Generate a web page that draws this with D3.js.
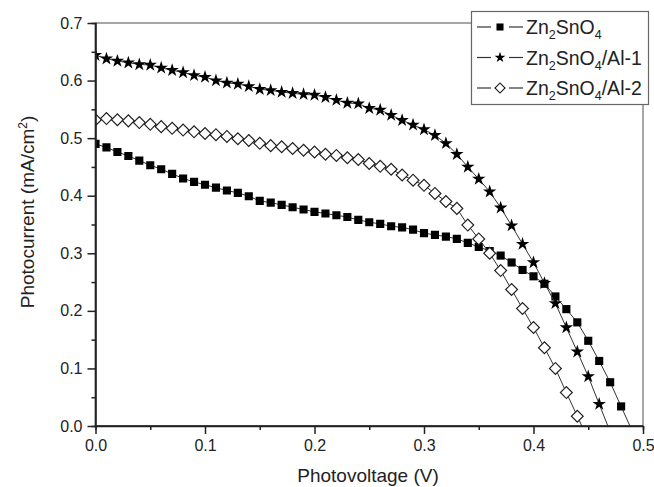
<!DOCTYPE html>
<style>
body {
  margin: 0;
  font-family: 'Liberation Sans', Arial, sans-serif;
  background: #fff;
}
.axis .domain {
  stroke: #222;
  stroke-width: 1.5;
}
.axis .tick line {
  stroke: #222;
  stroke-width: 1.5;
}
.axis text {
  font-family: 'Liberation Sans', Arial, sans-serif;
  font-size: 16px;
  fill: #222;
}
</style>
<svg width="654" height="487"></svg>
<script src="https://d3js.org/d3.v7.min.js"></script>
<script>
// voltage steps (V), shared by the three curves
var voltage = [0.00, 0.01, 0.02, 0.03, 0.04, 0.05, 0.06, 0.07, 0.08, 0.09,
               0.10, 0.11, 0.12, 0.13, 0.14, 0.15, 0.16, 0.17, 0.18, 0.19,
               0.20, 0.21, 0.22, 0.23, 0.24, 0.25, 0.26, 0.27, 0.28, 0.29,
               0.30, 0.31, 0.32, 0.33, 0.34, 0.35, 0.36, 0.37, 0.38, 0.39,
               0.40, 0.41, 0.42, 0.43, 0.44, 0.45, 0.46, 0.47, 0.48, 0.49];

// photocurrent (mA/cm2); the last value of each lies just under the axis
var zn2sno4 = [0.490, 0.484, 0.476, 0.469, 0.461, 0.453, 0.446, 0.438, 0.430, 0.424,
               0.419, 0.414, 0.409, 0.405, 0.399, 0.391, 0.388, 0.384, 0.380, 0.376,
               0.372, 0.369, 0.366, 0.363, 0.358, 0.354, 0.351, 0.347, 0.345, 0.341,
               0.335, 0.332, 0.329, 0.325, 0.318, 0.311, 0.304, 0.296, 0.284, 0.271,
               0.260, 0.247, 0.225, 0.203, 0.180, 0.148, 0.113, 0.076, 0.034, -0.008];

var zn2sno4Al1 = [0.644, 0.638, 0.634, 0.631, 0.628, 0.627, 0.622, 0.618, 0.614, 0.609,
                  0.606, 0.600, 0.596, 0.594, 0.590, 0.585, 0.583, 0.580, 0.578, 0.576,
                  0.575, 0.571, 0.566, 0.561, 0.560, 0.552, 0.549, 0.540, 0.531, 0.523,
                  0.515, 0.505, 0.491, 0.472, 0.450, 0.429, 0.407, 0.379, 0.348, 0.316,
                  0.284, 0.248, 0.213, 0.171, 0.129, 0.086, 0.038, -0.010];

var zn2sno4Al2 = [0.532, 0.534, 0.532, 0.530, 0.527, 0.524, 0.520, 0.517, 0.514, 0.511,
                  0.508, 0.506, 0.503, 0.499, 0.496, 0.491, 0.487, 0.485, 0.482, 0.479,
                  0.476, 0.472, 0.470, 0.466, 0.463, 0.456, 0.451, 0.446, 0.436, 0.427,
                  0.418, 0.404, 0.390, 0.378, 0.349, 0.325, 0.300, 0.270, 0.237, 0.204,
                  0.171, 0.136, 0.100, 0.058, 0.017, -0.024];

var xTicks = [0.0, 0.1, 0.2, 0.3, 0.4, 0.5];
var yTicks = [0.0, 0.1, 0.2, 0.3, 0.4, 0.5, 0.6, 0.7];
var xMinor = [0.05, 0.15, 0.25, 0.35, 0.45];
var yMinor = [0.05, 0.15, 0.25, 0.35, 0.45, 0.55, 0.65];

var seriesNames = ["Zn2SnO4", "Zn2SnO4/Al-1", "Zn2SnO4/Al-2"];
var seriesValues = [zn2sno4, zn2sno4Al1, zn2sno4Al2];

var svg = d3.select("svg"),
    pLeft = 95.5, pRight = 643, pTop = 23, pBottom = 426;

var x = d3.scaleLinear().domain([0, 0.5]).range([pLeft, pRight]);
var y = d3.scaleLinear().domain([0, 0.7]).range([pBottom, pTop]);

// frame (top + right in grey)
svg.append("rect")
    .attr("x", pLeft).attr("y", pTop)
    .attr("width", pRight - pLeft).attr("height", pBottom - pTop)
    .attr("fill", "none")
    .attr("stroke", "#777")
    .attr("stroke-width", 1.3);

svg.append("clipPath").attr("id", "plot")
  .append("rect")
    .attr("x", pLeft).attr("y", pTop)
    .attr("width", pRight - pLeft).attr("height", pBottom - pTop);

var plot = svg.append("g").attr("clip-path", "url(#plot)");

var line = d3.line()
    .x(function(d) { return x(d[0]); })
    .y(function(d) { return y(d[1]); });

var symbols = [
  { type: d3.symbolSquare, size: 66, fill: "#000", stroke: "none", rot: 0 },
  { type: d3.symbolStar, size: 56, fill: "#000", stroke: "none", rot: 0 },
  { type: d3.symbolSquare, size: 70, fill: "#fff", stroke: "#222", rot: 45 }
];

seriesValues.forEach(function(vals, i) {
  var pts = vals.map(function(v, j) { return [voltage[j], v]; });
  plot.append("path")
      .datum(pts)
      .attr("fill", "none")
      .attr("stroke", "#333")
      .attr("stroke-width", 1)
      .attr("d", line);
  var s = symbols[i];
  plot.append("g").selectAll("path")
    .data(pts)
    .enter().append("path")
      .attr("transform", function(d) { return "translate(" + x(d[0]) + "," + y(d[1]) + ") rotate(" + s.rot + ")"; })
      .attr("d", d3.symbol().type(s.type).size(s.size))
      .attr("fill", s.fill)
      .attr("stroke", s.stroke)
      .attr("stroke-width", 1.2);
});

// axes
svg.append("g")
    .attr("class", "axis")
    .attr("transform", "translate(0," + pBottom + ")")
    .call(d3.axisBottom(x).tickValues(xMinor).tickSize(4).tickFormat(""));
svg.append("g")
    .attr("class", "axis")
    .attr("transform", "translate(0," + pBottom + ")")
    .call(d3.axisBottom(x).tickValues(xTicks).tickSize(8).tickPadding(6).tickFormat(d3.format(".1f")))
    .select(".domain").attr("d", "M" + pLeft + ",0H" + pRight);

svg.append("g")
    .attr("class", "axis")
    .attr("transform", "translate(" + pLeft + ",0)")
    .call(d3.axisLeft(y).tickValues(yMinor).tickSize(4).tickFormat(""));
svg.append("g")
    .attr("class", "axis")
    .attr("transform", "translate(" + pLeft + ",0)")
    .call(d3.axisLeft(y).tickValues(yTicks).tickSize(8).tickPadding(5).tickFormat(d3.format(".1f")))
    .select(".domain").attr("d", "M0," + pBottom + "V" + pTop);

// axis titles
svg.append("text")
    .attr("x", 368)
    .attr("y", 482)
    .attr("text-anchor", "middle")
    .attr("font-size", 19)
    .attr("fill", "#222")
    .text("Photovoltage (V)");

var yTitle = svg.append("text")
    .attr("transform", "translate(34,212) rotate(-90)")
    .attr("text-anchor", "middle")
    .attr("font-size", 19)
    .attr("fill", "#222");
yTitle.append("tspan").text("Photocurrent (mA/cm");
yTitle.append("tspan").attr("dy", -7).attr("font-size", 12).text("2");
yTitle.append("tspan").attr("dy", 7).text(")");

// legend
var legend = svg.append("g");
legend.append("rect")
    .attr("x", 471.5).attr("y", 11.5)
    .attr("width", 177).attr("height", 93)
    .attr("fill", "#fff")
    .attr("stroke", "#666")
    .attr("stroke-width", 1.2);

var legendSym = [
  { type: d3.symbolSquare, size: 50, fill: "#000", stroke: "none", rot: 0 },
  { type: d3.symbolStar, size: 36, fill: "#000", stroke: "none", rot: 0 },
  { type: d3.symbolSquare, size: 50, fill: "#fff", stroke: "#222", rot: 45 }
];

var rows = legend.selectAll(".row")
    .data(seriesNames)
    .enter().append("g")
      .attr("class", "row")
      .attr("transform", function(d, i) { return "translate(0," + (27 + i * 30.5) + ")"; });

rows.append("line")
    .attr("x1", 477).attr("x2", 491)
    .attr("stroke", "#333").attr("stroke-width", 1.2);
rows.append("line")
    .attr("x1", 509).attr("x2", 523)
    .attr("stroke", "#333").attr("stroke-width", 1.2);

rows.append("path")
    .attr("transform", function(d, i) { return "translate(500,0) rotate(" + legendSym[i].rot + ")"; })
    .attr("d", function(d, i) { return d3.symbol().type(legendSym[i].type).size(legendSym[i].size)(); })
    .attr("fill", function(d, i) { return legendSym[i].fill; })
    .attr("stroke", function(d, i) { return legendSym[i].stroke; })
    .attr("stroke-width", 1.2);

rows.each(function(d) {
  var t = d3.select(this).append("text")
      .attr("x", 526)
      .attr("y", 7)
      .attr("font-size", 19.5)
      .attr("fill", "#222");
  var rest = d.replace("Zn2SnO4", "");
  t.append("tspan").text("Zn");
  t.append("tspan").attr("dy", 5).attr("font-size", 12.5).text("2");
  t.append("tspan").attr("dy", -5).text("SnO");
  t.append("tspan").attr("dy", 5).attr("font-size", 12.5).text("4");
  t.append("tspan").attr("dy", -5).text(rest);
});
</script>
